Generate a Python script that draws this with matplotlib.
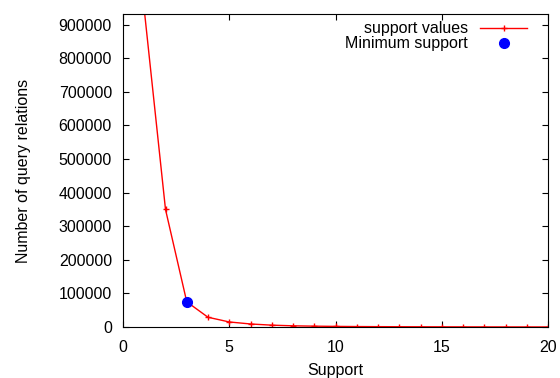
import matplotlib
matplotlib.use("Agg")
import matplotlib.pyplot as plt

support = [1, 2, 3, 4, 5, 6, 7, 8, 9, 10, 11, 12, 13, 14, 15, 16, 17, 18, 19, 20]
relations = [945000, 350000, 75000, 29000, 15000, 9000, 5500, 3500, 2500, 1800,
             1300, 1000, 800, 650, 500, 400, 320, 260, 200, 150]
min_support_x = [3]
min_support_y = [75000]

plt.rcParams['font.family'] = ['Liberation Sans', 'DejaVu Sans']
fig = plt.figure(figsize=(5.6, 3.78), dpi=100)
ax = fig.add_axes([123/560, 1-327/378, (548-123)/560, (327-14)/378])

fs = 11.5
ax.plot(support, relations, color='red', marker='+', markersize=5, linewidth=1,
        markeredgewidth=1, label='support values')
ax.plot(min_support_x, min_support_y, linestyle='none', marker='o', color='blue',
        markersize=7, label='Minimum support')

ax.set_xlim(0, 20)
ax.set_ylim(0, 932000)
ax.set_xticks([0, 5, 10, 15, 20])
ax.set_yticks(range(0, 900001, 100000))
ax.set_yticklabels([str(v) for v in range(0, 900001, 100000)])
ax.tick_params(direction='in', top=True, right=True, labelsize=fs, length=4)
ax.tick_params(axis='x', pad=9)
ax.tick_params(axis='y', pad=8)
ax.set_xlabel('Support', fontsize=fs, labelpad=6)
ax.set_ylabel('Number of query relations', fontsize=fs, labelpad=20)
ax.legend(loc='upper right', bbox_to_anchor=(0.951, 0.977), frameon=False,
          markerfirst=False, fontsize=fs, handlelength=2.95, borderaxespad=0,
          labelspacing=0.0, handletextpad=0.75, borderpad=0)

fig.savefig('out.png', dpi=100)
